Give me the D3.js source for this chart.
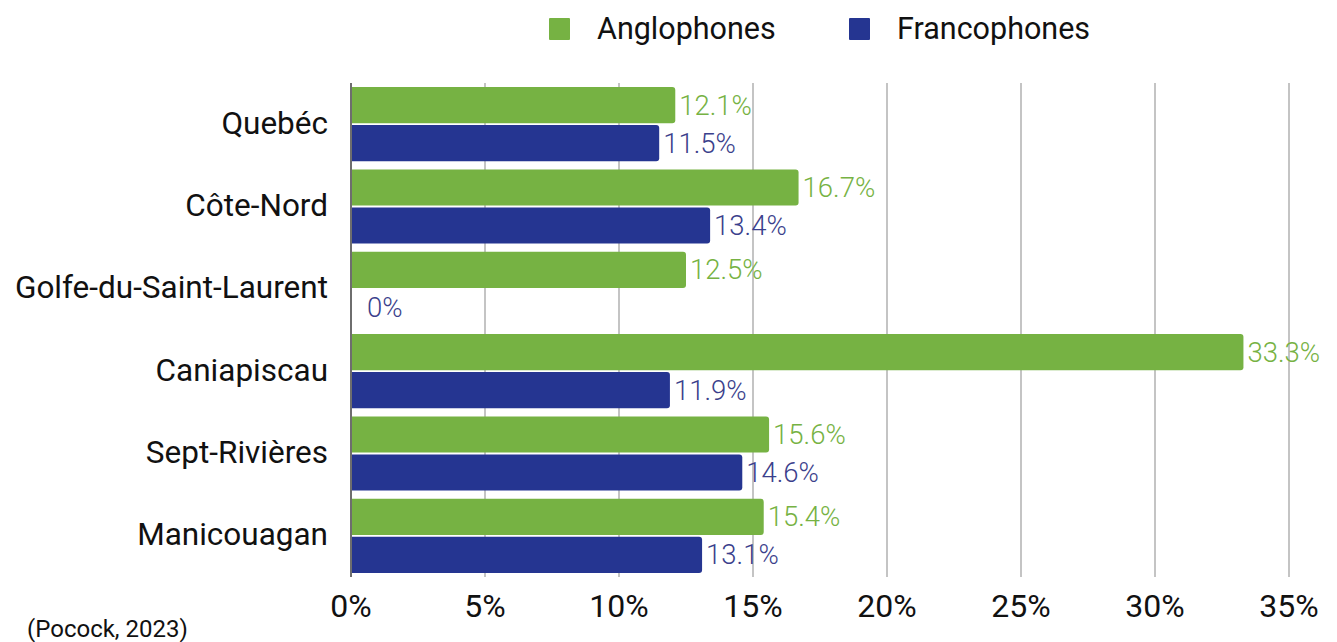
<!DOCTYPE html>
<html lang="en">
<head>
<meta charset="UTF-8">
<title>anglophones-francophones</title>
<style>
  body { margin: 0; background: #fff; }
  text { font-family: Roboto, "DejaVu Sans Condensed", sans-serif; }
</style>
</head>
<body>
<div id="container"></div>
<script src="https://cdn.jsdelivr.net/npm/d3@7"></script>
<script>
var regions = ["Quebéc", "Côte-Nord", "Golfe-du-Saint-Laurent", "Caniapiscau", "Sept-Rivières", "Manicouagan"];
var anglophones = [12.1, 16.7, 12.5, 33.3, 15.6, 15.4];
var francophones = [11.5, 13.4, 0, 11.9, 14.6, 13.1];
var seriesNames = ["Anglophones", "Francophones"];
var seriesColors = ["#76b243", "#253591"];
var labelColors = ["#76b243", "#3b3f8c"];
var xTicks = [0, 5, 10, 15, 20, 25, 30, 35];

var W = 1337, H = 642;
var margin = {top: 83, right: 48, bottom: 65, left: 351};

var svg = d3.select("#container").append("svg")
    .attr("width", W)
    .attr("height", H);

var x = d3.scaleLinear().domain([0, 35]).range([margin.left, W - margin.right]);
var y0 = d3.scaleBand().domain(regions).range([margin.top, H - margin.bottom]).paddingInner(0.1).paddingOuter(0.05);
var y1 = d3.scaleBand().domain(seriesNames).range([0, y0.bandwidth()]).paddingInner(0.05);

// gridlines
svg.append("g")
  .selectAll("line")
  .data(xTicks.slice(1))
  .enter().append("line")
    .attr("x1", function(d) { return x(d); })
    .attr("x2", function(d) { return x(d); })
    .attr("y1", margin.top)
    .attr("y2", H - margin.bottom)
    .attr("stroke", "#c4c4c4")
    .attr("stroke-width", 2);

var rows = regions.map(function(r, i) {
  return {region: r, values: [anglophones[i], francophones[i]]};
});

var group = svg.append("g")
  .selectAll("g")
  .data(rows)
  .enter().append("g")
    .attr("transform", function(d) { return "translate(0," + y0(d.region) + ")"; });

var cells = group.selectAll("g")
  .data(function(d) { return d.values.map(function(v, j) { return {key: seriesNames[j], j: j, value: v}; }); })
  .enter().append("g");

function barPath(d) {
  var x0 = x(0), x1 = x(d.value), yt = y1(d.key), h = y1.bandwidth(), r = Math.min(3, x1 - x0);
  if (x1 - x0 <= 0) return "";
  return "M" + x0 + "," + yt + "H" + (x1 - r) + "Q" + x1 + "," + yt + " " + x1 + "," + (yt + r) +
    "V" + (yt + h - r) + "Q" + x1 + "," + (yt + h) + " " + (x1 - r) + "," + (yt + h) + "H" + x0 + "Z";
}

cells.append("path")
    .attr("d", barPath)
    .attr("fill", function(d) { return seriesColors[d.j]; });

cells.append("text")
    .attr("x", function(d) { return x(d.value) + (d.value === 0 ? 16 : 4); })
    .attr("y", function(d) { return y1(d.key) + y1.bandwidth() / 2; })
    .attr("dy", "0.34em")
    .attr("font-size", 27.5)
    .attr("font-weight", 300)
    .attr("fill", function(d) { return labelColors[d.j]; })
    .text(function(d) { return d.value + "%"; });

// axis line
svg.append("line")
    .attr("x1", x(0)).attr("x2", x(0))
    .attr("y1", margin.top).attr("y2", H - margin.bottom)
    .attr("stroke", "#6e6e6e")
    .attr("stroke-width", 2);

// x tick labels
svg.append("g")
  .selectAll("text")
  .data(xTicks)
  .enter().append("text")
    .attr("x", function(d) { return x(d); })
    .attr("y", 605)
    .attr("dy", "0.36em")
    .attr("text-anchor", "middle")
    .attr("font-size", 32)
    .attr("fill", "#111")
    .text(function(d) { return d + "%"; });

// category labels
svg.append("g")
  .selectAll("text")
  .data(regions)
  .enter().append("text")
    .attr("x", 328)
    .attr("y", function(d) { return y0(d) + y0.bandwidth() / 2 - 2; })
    .attr("dy", "0.36em")
    .attr("text-anchor", "end")
    .attr("font-size", 31.5)
    .attr("fill", "#111")
    .text(function(d) { return d; });

// legend
var legendX = [549, 849];
var legend = svg.append("g")
  .selectAll("g")
  .data(seriesNames)
  .enter().append("g")
    .attr("transform", function(d, i) { return "translate(" + legendX[i] + ",18)"; });

legend.append("rect")
    .attr("width", 21)
    .attr("height", 22)
    .attr("rx", 1)
    .attr("fill", function(d, i) { return seriesColors[i]; });

legend.append("text")
    .attr("x", 48)
    .attr("y", 10)
    .attr("dy", "0.36em")
    .attr("font-size", 30.5)
    .attr("fill", "#111")
    .text(function(d) { return d; });

// source
svg.append("text")
    .attr("x", 27)
    .attr("y", 628)
    .attr("dy", "0.36em")
    .attr("font-size", 24)
    .attr("fill", "#111")
    .text("(Pocock, 2023)");
</script>
</body>
</html>
